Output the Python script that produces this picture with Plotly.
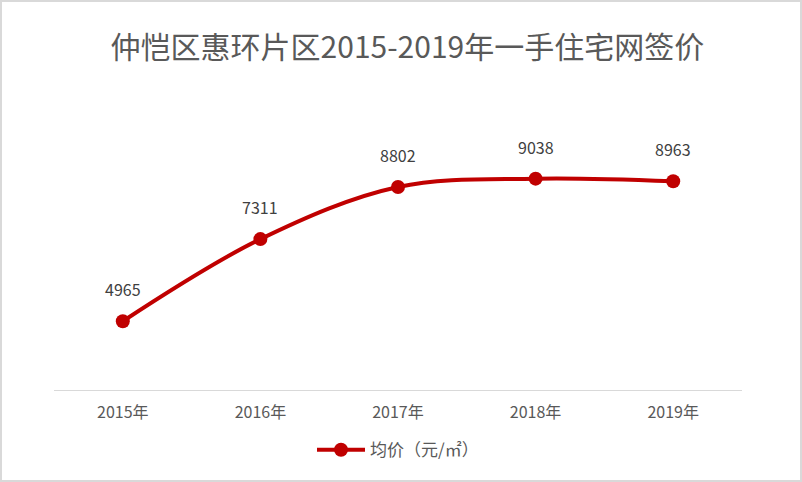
import plotly.graph_objects as go

years = ["2015年", "2016年", "2017年", "2018年", "2019年"]
prices = [4965, 7311, 8802, 9038, 8963]
series_name = "均价（元/㎡）"
title_text = "仲恺区惠环片区2015-2019年一手住宅网签价"

W, H = 802, 482
ml, mr, mt, mb = 54, 60, 110, 92

fig = go.Figure()
fig.add_trace(go.Scatter(
    x=years, y=prices, name=series_name,
    mode="lines+markers",
    line=dict(color="#C00000", width=4, shape="spline", smoothing=1.0),
    marker=dict(color="#C00000", size=14),
    cliponaxis=False,
))

for xv, yv in zip(years, prices):
    fig.add_annotation(x=xv, y=yv, text=str(yv), showarrow=False, yshift=32,
                       font=dict(family="Noto Sans CJK SC, Noto Sans", size=16, color="#404040"))

pw, ph = W - ml - mr, H - mt - mb
fig.update_layout(
    width=W, height=H,
    margin=dict(l=ml, r=mr, t=mt, b=mb),
    paper_bgcolor="white", plot_bgcolor="white",
    title=dict(text=title_text, x=0.508, xanchor="center", y=0.902, yanchor="middle",
               font=dict(family="Noto Sans CJK SC", size=30, color="#595959")),
    xaxis=dict(type="category", range=[-0.5, 4.5], showgrid=False, showline=True,
               linecolor="#D9D9D9", linewidth=1, ticks="", zeroline=False,
               ticklabelstandoff=8,
               tickfont=dict(family="Noto Sans CJK SC", size=16, color="#595959")),
    yaxis=dict(range=[3000, 11000], visible=False, showgrid=False, zeroline=False),
    showlegend=True,
    legend=dict(orientation="h", x=0.5, xanchor="center", y=-0.215, yanchor="middle",
                itemwidth=48,
                font=dict(family="Noto Sans CJK SC", size=17, color="#595959")),
    shapes=[dict(type="rect", xref="paper", yref="paper",
                 x0=-(ml - 1) / pw, x1=1 + (mr - 1) / pw,
                 y0=-(mb - 1) / ph, y1=1 + (mt - 1) / ph,
                 line=dict(color="#D9D9D9", width=2), fillcolor="rgba(0,0,0,0)")],
)

fig.write_html("out.html", config={"displayModeBar": False},
               post_script="document.body.style.margin='0';")
